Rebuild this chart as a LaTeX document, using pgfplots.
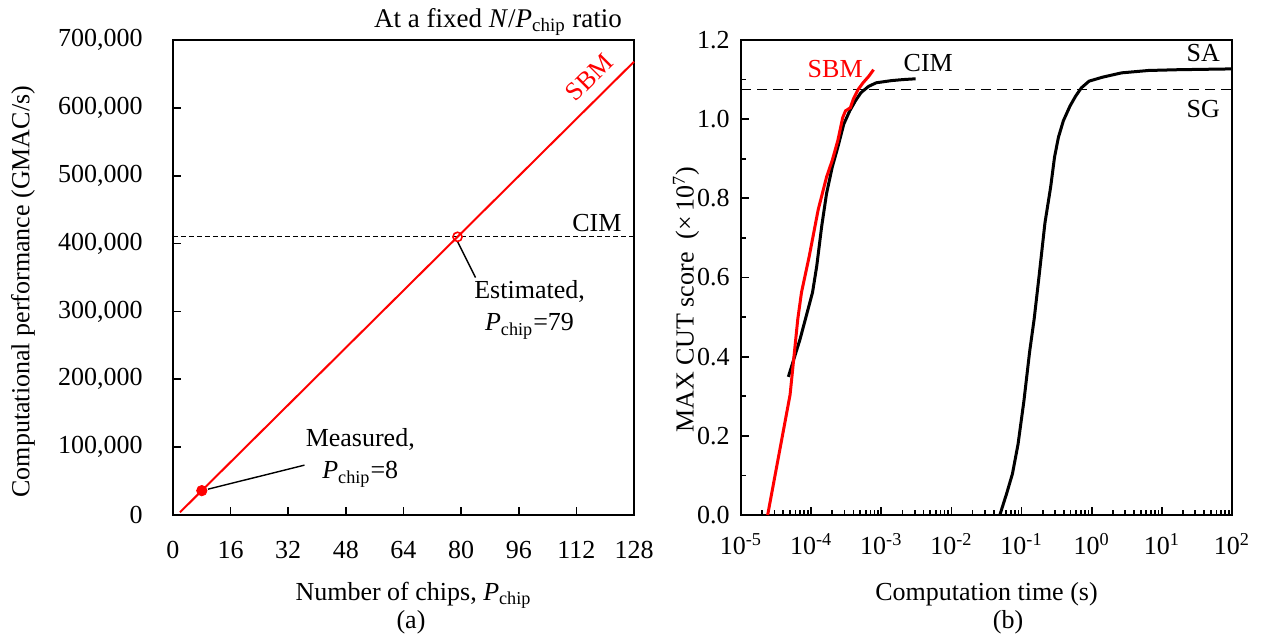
\documentclass[border=0pt]{standalone}
\usepackage{fontspec}
\setmainfont{Liberation Serif}
\usepackage{pgfplots}
\pgfplotsset{compat=1.18}
\definecolor{sbmred}{RGB}{255,0,0}

\newcommand{\Pchip}{\textit{P}\textsubscript{chip}}

\begin{document}
\fontsize{13}{16}\selectfont
\begin{tikzpicture}
\useasboundingbox (-86.5pt,-61pt) rectangle (545pt,257.5pt);
\pgfplotsset{
  every axis/.append style={
    scale only axis,
    clip=false,
    axis line style={line width=0.85pt},
    tick style={line width=0.85pt, black},
    tick align=inside,
    tick pos=left,
    major tick length=4pt,
    minor tick length=2.5pt,
    /pgf/number format/assume math mode=true,
    ticklabel style={font=\fontsize{13}{15}\selectfont},
  }
}

% (a) performance vs number of chips
\begin{axis}[
    at={(0pt,0pt)}, anchor=south west,
    width=230.5pt, height=237.5pt,
    xmin=0, xmax=128, ymin=0, ymax=700000,
    xtick={0,16,32,48,64,80,96,112,128},
    ytick={0,100000,200000,300000,400000,500000,600000,700000},
    scaled y ticks=false,
    yticklabel style={xshift=-10.7pt, /pgf/number format/fixed, /pgf/number format/1000 sep={,}},
    xticklabel style={yshift=-8.7pt},
]
\addplot[black, line width=0.7pt, dash pattern=on 2.5pt off 1.5pt] coordinates {(0,410000) (128,410000)};
\addplot[sbmred, line width=1pt] coordinates {(1.94,4000) (128,668000)};
\addplot[only marks, mark=*, mark size=2.6pt, sbmred] coordinates {(8,35900)};
\addplot[only marks, mark=o, mark size=2.3pt, sbmred, mark options={fill=white, line width=0.8pt}] coordinates {(79,409900)};

\draw[black, line width=0.7pt] (axis cs:79,403000) -- (axis cs:84,350000);
\draw[black, line width=0.7pt] (axis cs:9.7,38000) -- (axis cs:36.5,73500);
\node[align=center] at (axis cs:99,302000) {Estimated,\\\Pchip=79};
\node[align=center] at (axis cs:52,84000) {Measured,\\\Pchip=8};
\node[sbmred, rotate=45, inner sep=0pt] at (axis cs:115.6,645000) {SBM};
\node at (axis cs:117.7,431000) {CIM};

\node[anchor=base east] at ([yshift=6.5pt, xshift=-1.5pt]rel axis cs:1,1) {\fontsize{13.5}{16}\selectfont At a fixed \textit{N}/\Pchip{} ratio};
\node[rotate=90] at ([xshift=-75pt]rel axis cs:0,0.47) {Computational performance (GMAC/s)};
\node[anchor=base] at ([yshift=-42.5pt, xshift=5pt]rel axis cs:0.5,0) {Number of chips, \Pchip};
\node[anchor=base] at ([yshift=-56.5pt, xshift=3.75pt]rel axis cs:0.5,0) {(a)};
\end{axis}

% (b) MAX CUT score vs computation time
\begin{axis}[
    at={(284pt,0pt)}, anchor=south west,
    width=245.5pt, height=237.5pt,
    xmode=log, log basis x=10,
    xmin=1e-5, xmax=1e2, ymin=0, ymax=1.2,
    xtick={1e-5,1e-4,1e-3,1e-2,1e-1,1,10,100},
    minor xtick={2e-5,3e-5,4e-5,5e-5,6e-5,7e-5,8e-5,9e-5,
                 2e-4,3e-4,4e-4,5e-4,6e-4,7e-4,8e-4,9e-4,
                 2e-3,3e-3,4e-3,5e-3,6e-3,7e-3,8e-3,9e-3,
                 2e-2,3e-2,4e-2,5e-2,6e-2,7e-2,8e-2,9e-2,
                 0.2,0.3,0.4,0.5,0.6,0.7,0.8,0.9,
                 2,3,4,5,6,7,8,9,
                 20,30,40,50,60,70,80,90},
    xticklabels={10\textsuperscript{-5},10\textsuperscript{-4},10\textsuperscript{-3},10\textsuperscript{-2},10\textsuperscript{-1},10\textsuperscript{0},10\textsuperscript{1},10\textsuperscript{2}},
    ytick={0,0.2,0.4,0.6,0.8,1.0,1.2},
    minor y tick num=1,
    yticklabel style={xshift=-1.2pt, /pgf/number format/fixed, /pgf/number format/fixed zerofill, /pgf/number format/precision=1},
    xticklabel style={yshift=-4.7pt},
]
\addplot[black, line width=0.75pt, dash pattern=on 5pt off 3pt] coordinates {(1e-5,1.075) (1e2,1.075)};

% CIM
\addplot[black, line width=1.5pt] coordinates {
 (4.73e-5,0.349) (6.92e-5,0.443) (8.32e-5,0.496) (1.047e-4,0.5625)
 (1.202e-4,0.629) (1.413e-4,0.729) (1.66e-4,0.8125) (2.0e-4,0.879)
 (2.40e-4,0.929) (2.92e-4,0.9875) (3.55e-4,1.021) (4.27e-4,1.046)
 (5.13e-4,1.067) (6.61e-4,1.083) (8.51e-4,1.092) (1.413e-3,1.0975)
 (2.04e-3,1.100) (3.09e-3,1.102)
};

% SA
\addplot[black, line width=1.5pt] coordinates {
 (4.90e-2,0.0) (6.12e-2,0.054) (7.41e-2,0.104) (8.91e-2,0.179)
 (0.1079,0.2875) (0.1303,0.4125) (0.1514,0.496) (0.1778,0.604)
 (0.2153,0.7375) (0.2600,0.829) (0.2951,0.904) (0.3350,0.954)
 (0.3945,0.996) (0.4898,1.033) (0.5888,1.058) (0.7112,1.079)
 (0.9162,1.096) (1.422,1.106) (2.667,1.117) (6.457,1.123)
 (17.62,1.125) (42.66,1.126) (100,1.127)
};

% SBM
\addplot[sbmred, line width=1.5pt] coordinates {
 (2.40e-5,0.0) (5.01e-5,0.304) (6.46e-5,0.496) (7.29e-5,0.5625)
 (9.40e-5,0.654) (1.259e-4,0.771) (1.66e-4,0.854) (2.0e-4,0.896)
 (2.40e-4,0.946) (2.82e-4,1.004) (3.09e-4,1.021) (3.63e-4,1.029)
 (3.98e-4,1.05) (4.68e-4,1.075) (5.50e-4,1.092) (6.61e-4,1.108)
 (7.76e-4,1.125)
};

\node[sbmred] at (axis cs:2.2e-4,1.127) {SBM};
\node at (axis cs:4.68e-3,1.142) {CIM};
\node[anchor=east] at ([yshift={1.167/1.2*237.5pt}, xshift=-1.5pt]rel axis cs:1,0) {SA};
\node[anchor=east] at ([yshift={1.026/1.2*237.5pt}, xshift=-1.5pt]rel axis cs:1,0) {SG};

\node[rotate=90] at ([xshift=-27.5pt]rel axis cs:0,0.453) {MAX CUT score\ \ (×\,10\textsuperscript{7})};
\node[anchor=base] at ([yshift=-42.5pt]rel axis cs:0.5,0) {Computation time (s)};
\node[anchor=base] at ([yshift=-56.5pt, xshift=10.75pt]rel axis cs:0.5,0) {(b)};
\end{axis}
\end{tikzpicture}
\end{document}
